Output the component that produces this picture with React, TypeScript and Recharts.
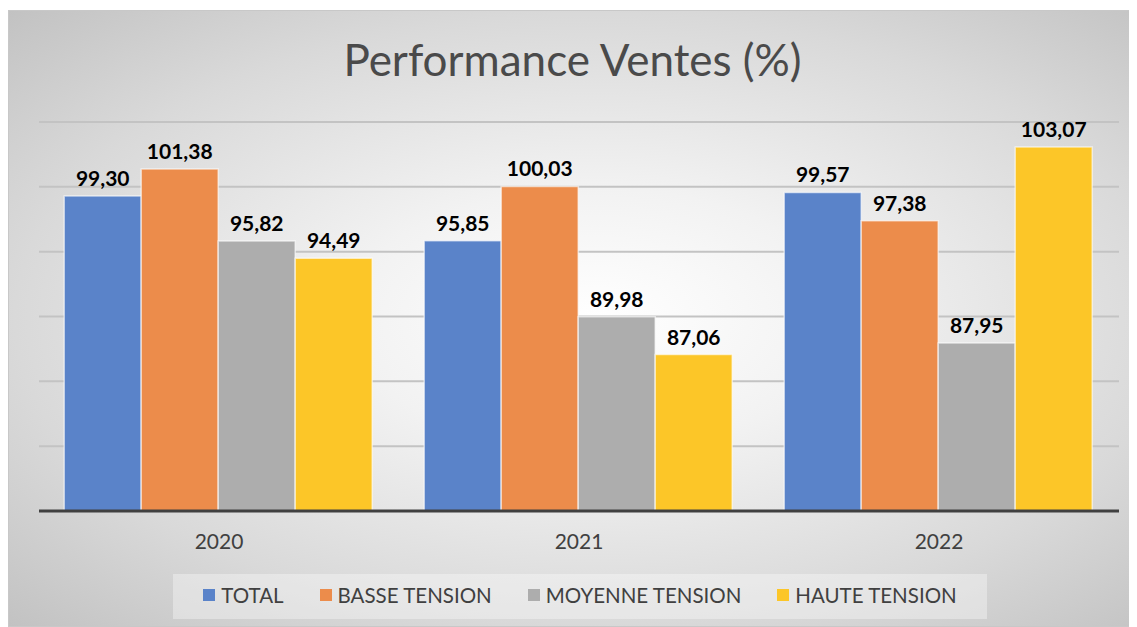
import React from 'react';
import { BarChart, Bar, XAxis, YAxis, CartesianGrid, LabelList } from 'recharts';

const years = ['2020', '2021', '2022'];
const total = [99.3, 95.85, 99.57];
const basseTension = [101.38, 100.03, 97.38];
const moyenneTension = [95.82, 89.98, 87.95];
const hauteTension = [94.49, 87.06, 103.07];
const yTicks = [75, 80, 85, 90, 95, 100, 105];

const series = [
  { key: 'total', name: 'TOTAL', color: '#5a83c9' },
  { key: 'basse', name: 'BASSE TENSION', color: '#ec8c4b' },
  { key: 'moyenne', name: 'MOYENNE TENSION', color: '#adadad' },
  { key: 'haute', name: 'HAUTE TENSION', color: '#fcc628' },
];

const chartData = years.map((year, i) => ({
  year,
  total: total[i],
  basse: basseTension[i],
  moyenne: moyenneTension[i],
  haute: hauteTension[i],
}));

const fmt = (v: any) => Number(v).toFixed(2).replace('.', ',');

const App: React.FC = () => {
  return (
    <div
      style={{
        position: 'relative',
        width: 1129,
        height: 617,
        marginTop: 2,
        boxSizing: 'border-box',
        border: '1px solid #c8c8c8',
        background: 'radial-gradient(ellipse at 52% 50%, #ffffff 0%, #f2f2f2 30%, #d9d9d9 70%, #c2c2c2 100%)',
        fontFamily: 'Lato, sans-serif',
      }}
    >
      <div
        style={{
          position: 'absolute',
          top: 22,
          left: 0,
          width: '100%',
          textAlign: 'center',
          fontSize: 44,
          color: '#4a4a4a',
        }}
      >
        Performance Ventes (%)
      </div>
      <BarChart
        width={1129}
        height={617}
        data={chartData}
        margin={{ top: 112, right: 18, left: 31, bottom: 86 }}
        barCategoryGap="7%"
        barGap={0}
        style={{ position: 'absolute', top: -1, left: -1 }}
      >
        <CartesianGrid vertical={false} stroke="#c3c3c3" strokeWidth={2} />
        <YAxis hide domain={[75, 105]} ticks={yTicks} />
        <XAxis
          dataKey="year"
          height={30}
          axisLine={{ stroke: '#404040', strokeWidth: 3 }}
          tickLine={false}
          tick={{ fontSize: 21, fill: '#404040' }}
          dy={15}
        />
        {series.map((s) => (
          <Bar
            key={s.key}
            dataKey={s.key}
            name={s.name}
            fill={s.color}
            stroke="rgba(255,255,255,0.6)"
            strokeWidth={1.5}
            isAnimationActive={false}
          >
            <LabelList
              dataKey={s.key}
              position="top"
              offset={10}
              formatter={fmt}
              style={{ fontSize: 21, fontWeight: 700, fill: '#000000' }}
            />
          </Bar>
        ))}
      </BarChart>
      <div
        style={{
          position: 'absolute',
          left: 164,
          top: 563,
          width: 814,
          height: 45,
          background: 'rgba(255,255,255,0.35)',
          display: 'flex',
          alignItems: 'center',
          justifyContent: 'center',
          gap: 36,
          fontSize: 20.5,
          color: '#404040',
        }}
      >
        {series.map((s) => (
          <div key={s.key} style={{ display: 'flex', alignItems: 'center', gap: 6, marginTop: -4 }}>
            <span style={{ display: 'inline-block', width: 12, height: 12, background: s.color }} />
            <span>{s.name}</span>
          </div>
        ))}
      </div>
    </div>
  );
};

export default App;
